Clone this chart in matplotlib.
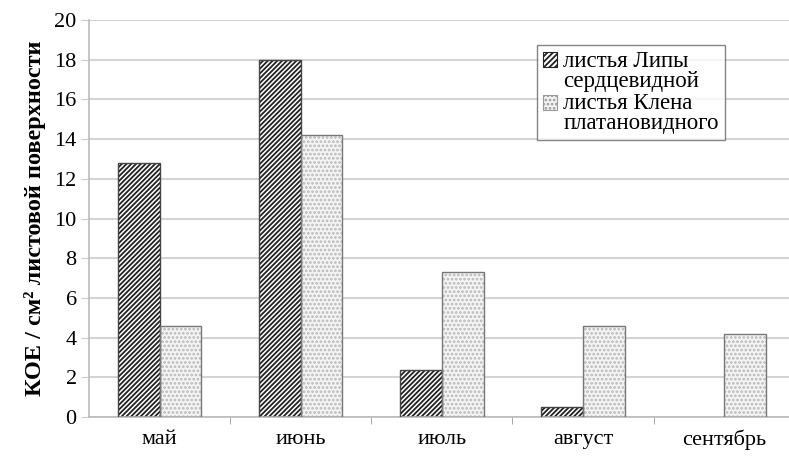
import numpy as np
import matplotlib.pyplot as plt
from matplotlib.patches import Patch, Rectangle
from matplotlib.legend_handler import HandlerPatch

months = ['май', 'июнь', 'июль', 'август', 'сентябрь']
lipa = [12.8, 18.0, 2.4, 0.5, 0.0]
klen = [4.6, 14.2, 7.3, 4.6, 4.2]
yticks = [0, 2, 4, 6, 8, 10, 12, 14, 16, 18, 20]

plt.rcParams['font.family'] = ['Liberation Serif', 'DejaVu Serif']
plt.rcParams['hatch.linewidth'] = 1.3

fig = plt.figure(figsize=(7.89, 4.62), dpi=100)
ax = fig.add_axes([0.113, 0.097, 0.887, 0.86])

x = np.arange(len(months))
w = 0.295

# hatched fills (edge colour drives hatch colour), outlines drawn separately
ax.bar(x - w/2, lipa, w, color='white', edgecolor='#222222', hatch='///////', linewidth=0, zorder=2)
ax.bar(x + w/2, klen, w, color='#f4f4f4', edgecolor='#b8b8b8', hatch='....', linewidth=0, zorder=2)
ax.bar(x - w/2, [v if v > 0 else np.nan for v in lipa], w, fill=False, edgecolor='#444444', linewidth=1.0, zorder=3)
ax.bar(x + w/2, klen, w, fill=False, edgecolor='#777777', linewidth=1.0, zorder=3)

ax.set_ylim(0, 20)
ax.set_yticks(yticks)
ax.set_xlim(-0.5, 4.46)
ax.set_xticks(x)
ax.set_xticklabels(months)
ax.set_xticks(np.arange(0.5, 4.5, 1), minor=True)
ax.tick_params(axis='x', which='major', length=0, pad=9, labelsize=16)
ax.tick_params(axis='x', which='minor', length=5, color='#999999', direction='out')
ax.tick_params(axis='y', length=6, color='#cccccc', labelsize=16, pad=3)
ax.yaxis.grid(True, color='#d4d4d4', linewidth=1.5, zorder=0)
ax.set_axisbelow(True)
for s in ['top', 'right']:
    ax.spines[s].set_visible(False)
ax.spines['left'].set_color('#bbbbbb')
ax.spines['bottom'].set_color('#bbbbbb')
ax.spines['left'].set_linewidth(1.2)
ax.spines['bottom'].set_linewidth(1.2)

ax.set_ylabel('КОЕ / см² листовой поверхности', fontsize=17.5, fontweight='bold', labelpad=6)


# legend square sits next to the first line of each two-line label
def top_square(legend, orig_handle, xdescent, ydescent, width, height, fontsize):
    return Rectangle((-xdescent, -ydescent + 0.5 * fontsize), width, height)


handles = [Patch(facecolor='white', edgecolor='#222222', hatch='//////', linewidth=0.8),
           Patch(facecolor='#f4f4f4', edgecolor='#999999', hatch='....', linewidth=0.8)]
leg = ax.legend(handles, ['листья Липы\nсердцевидной', 'листья Клена\nплатановидного'],
                loc='upper left', bbox_to_anchor=(0.64, 0.937), fontsize=16.5,
                frameon=True, fancybox=False, handlelength=0.6, handleheight=0.6,
                handletextpad=0.3, borderpad=0.25, labelspacing=0.05, borderaxespad=0,
                handler_map={Patch: HandlerPatch(patch_func=top_square)})
leg.get_frame().set_edgecolor('#666666')
leg.get_frame().set_linewidth(1.0)
for t in leg.get_texts():
    t.set_linespacing(0.96)

fig.savefig('out.png', dpi=100)
